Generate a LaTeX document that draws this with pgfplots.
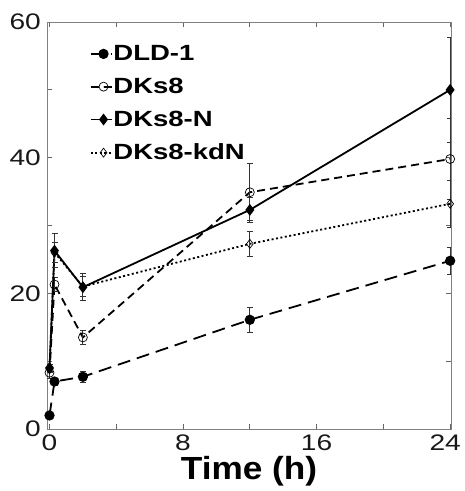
\documentclass[border=0pt]{standalone}
\usepackage{fontspec}
\setmainfont{Liberation Sans}
\newfontfamily\tickfont[FakeStretch=1.25]{Liberation Sans}
\newfontfamily\legfont[FakeStretch=1.25]{Liberation Sans}
\newfontfamily\labfont[FakeStretch=1.1]{Liberation Sans}
\usepackage{pgfplots}
\pgfplotsset{compat=1.18}
\begin{document}
\begin{tikzpicture}
\begin{axis}[
  scale only axis,
  width=404pt, height=407pt,
  xmin=-0.15, xmax=24.05, ymin=0, ymax=60,
  xtick={0,8,16,24}, minor xtick={4,12,20},
  xticklabels={0,8,16,{24\hspace*{10pt}}},
  ytick={0,20,40,60}, minor ytick={10,30,50},
  tick align=inside,
  major tick length=5pt, minor tick length=5pt,
  tick style={color=black!60, line width=0.7pt},
  axis line style={color=black!50, line width=0.8pt},
  /pgf/number format/assume math mode=true,
  tick label style={font=\fontsize{22.5}{22.5}\selectfont\tickfont, text=black!90},
  xticklabel style={inner sep=0pt, yshift=-6pt},
  yticklabel style={inner sep=0pt, xshift=-6pt},
  xlabel={Time (h)},
  xlabel style={font=\fontsize{32}{32}\selectfont\labfont\bfseries, at={(rel axis cs:0.5,0)}, anchor=north, inner sep=0pt, yshift=-27pt},
  legend style={at={(0.105,0.945)}, anchor=north west, draw=none, fill=none, inner sep=0pt,
    row sep=14pt, font=\fontsize{22}{22}\selectfont\legfont\bfseries, nodes={inner sep=1pt}},
  legend cell align=left,
  legend image code/.code={\draw[mark repeat=2,mark phase=2,#1] plot coordinates {(0pt,0pt) (13pt,0pt) (21pt,0pt)};},
  error bars/y dir=both, error bars/y explicit,
  error bars/error bar style={line width=0.8pt, black!80, solid},
  error bars/error mark options={rotate=90, mark size=3pt, line width=0.8pt, black!80},
]
% DLD-1
\addplot[black, line width=1.8pt, dash pattern=on 13pt off 7pt, mark=*, mark size=4.2pt, mark options={solid}]
  coordinates {(0,2.0) +- (0,0.3) (0.3,7.0) +- (0,0.5) (2,7.7) +- (0,0.8) (12,16.1) +- (0,1.9) (24,24.8) +- (0,2.0)};
\addlegendentry{DLD-1}
% DKs8
\addplot[black, line width=1.8pt, dash pattern=on 8pt off 5pt, mark=o, mark size=4.5pt, mark options={solid, line width=0.7pt, fill=white}]
  coordinates {(0,8.3) +- (0,0.8) (0.3,21.3) +- (0,1.0) (2,13.5) +- (0,1.0) (12,34.9) +- (0,4.2) (24,39.8) +- (0,6.0)};
\addlegendentry{DKs8}
% DKs8-N
\addplot[black, line width=1.8pt, solid, mark=diamond*, mark size=4.5pt]
  coordinates {(0,9.0) +- (0,0.5) (0.3,26.3) +- (0,2.5) (2,20.9) +- (0,2.0) (12,32.3) +- (0,1.9) (24,50.0) +- (0,7.7)};
\addlegendentry{DKs8-N}
% DKs8-kdN
\addplot[black, line width=1.8pt, dash pattern=on 2pt off 2.5pt, mark=diamond, mark size=4.5pt, mark options={solid, line width=0.7pt, fill=white}]
  coordinates {(0,8.8) +- (0,0.5) (0.3,26.0) +- (0,1.5) (2,21.0) +- (0,1.5) (12,27.3) +- (0,1.8) (24,33.2) +- (0,3.5)};
\addlegendentry{DKs8-kdN}
\end{axis}
\pgfresetboundingbox
\useasboundingbox (-47pt,-62pt) rectangle (418pt,429pt);
\end{tikzpicture}
\end{document}
